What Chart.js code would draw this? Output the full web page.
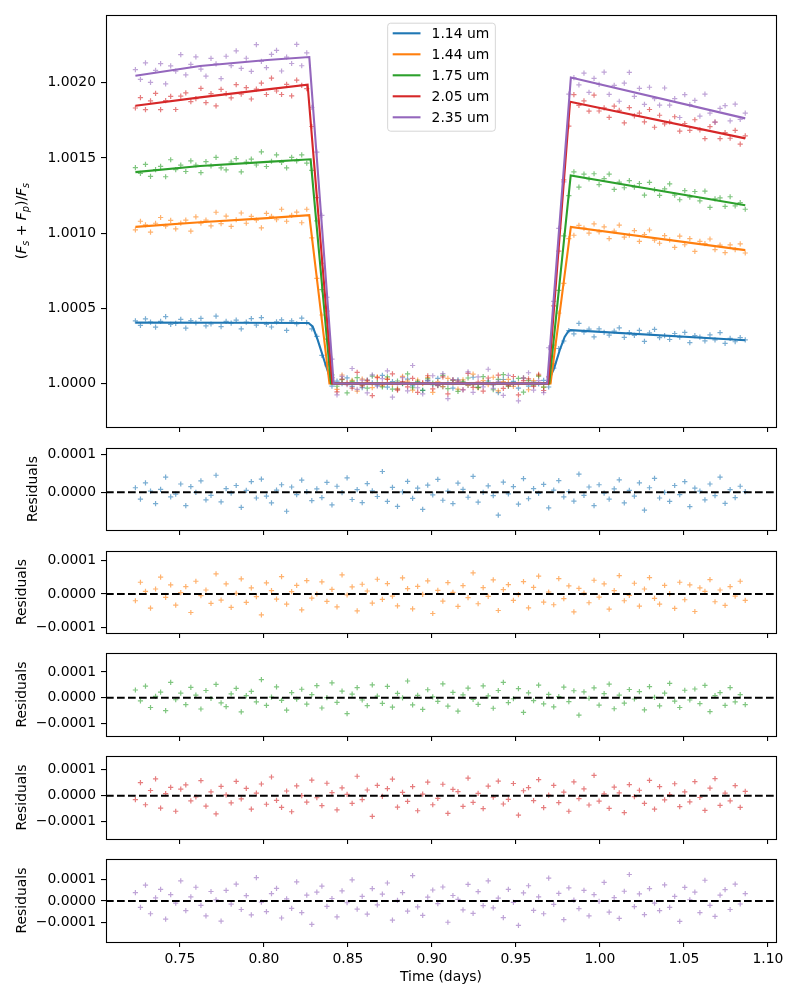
<!DOCTYPE html>
<html>
<head>
<meta charset="utf-8">
<title>Eclipse light curves and residuals</title>
<script src="https://cdn.jsdelivr.net/npm/chart.js@4"></script>
<style>
  body { margin: 0; background: #fff; width: 800px; height: 1000px; position: relative; overflow: hidden; }
  canvas { position: absolute; left: 0; }
</style>
</head>
<body>
<canvas id="main" width="800" height="437" style="top:0px"></canvas>
<canvas id="res0" width="800" height="102" style="top:438px"></canvas>
<canvas id="res1" width="800" height="102" style="top:541px"></canvas>
<canvas id="res2" width="800" height="103" style="top:643px"></canvas>
<canvas id="res3" width="800" height="103" style="top:746px"></canvas>
<canvas id="res4" width="800" height="151" style="top:849px"></canvas>

<script>
// ---- data (flux in ppm above 1, residuals in ppm) ----
const labels = ['1.14 um', '1.44 um', '1.75 um', '2.05 um', '2.35 um'];

const times = [
  0.7235, 0.7265, 0.7295, 0.7325, 0.7355, 0.7385, 0.7415, 0.7445, 0.7475, 0.7505,
  0.7535, 0.7565, 0.7595, 0.7625, 0.7655, 0.7685, 0.7715, 0.7745, 0.7775, 0.7805,
  0.7835, 0.7865, 0.7895, 0.7925, 0.7955, 0.7985, 0.8015, 0.8045, 0.8075, 0.8105,
  0.8135, 0.8165, 0.8195, 0.8225, 0.8255, 0.8285, 0.8315, 0.8345, 0.8375, 0.8405,
  0.8435, 0.8465, 0.8495, 0.8525, 0.8555, 0.8585, 0.8615, 0.8645, 0.8675, 0.8705,
  0.8735, 0.8765, 0.8795, 0.8825, 0.8855, 0.8885, 0.8915, 0.8945, 0.8975, 0.9005,
  0.9035, 0.9065, 0.9095, 0.9125, 0.9155, 0.9185, 0.9215, 0.9245, 0.9275, 0.9305,
  0.9335, 0.9365, 0.9395, 0.9425, 0.9455, 0.9485, 0.9515, 0.9545, 0.9575, 0.9605,
  0.9635, 0.9665, 0.9695, 0.9725, 0.9755, 0.9785, 0.9815, 0.9845, 0.9875, 0.9905,
  0.9935, 0.9965, 0.9995, 1.0025, 1.0055, 1.0085, 1.0115, 1.0145, 1.0175, 1.0205,
  1.0235, 1.0265, 1.0295, 1.0325, 1.0355, 1.0385, 1.0415, 1.0445, 1.0475, 1.0505,
  1.0535, 1.0565, 1.0595, 1.0625, 1.0655, 1.0685, 1.0715, 1.0745, 1.0775, 1.0805,
  1.0835, 1.0865
];

const fluxBlue = [
  417, 387, 430, 408, 375, 413, 445, 393, 400, 427,
  369, 419, 404, 434, 384, 396, 449, 379, 414, 402,
  422, 364, 409, 432, 389, 439, 394, 376, 410, 423,
  353, 417, 397, 435, 405, 363, 314, 188, 126, -17,
  16, -1, 38, -19, 7, -27, 23, 4, -11, 55,
  -24, 13, -37, 1, 29, -16, 11, -45, 19, -7,
  34, -21, 3, -30, 24, 8, -13, 42, -26, 0,
  17, -9, -60, 27, -4, 15, -31, 36, -17, 10,
  -3, 21, -23, 103, 233, 283, 352, 331, 400, 342,
  362, 311, 364, 340, 322, 348, 370, 307, 338, 321,
  354, 280, 337, 360, 306, 319, 293, 333, 308, 340,
  272, 319, 309, 284, 324, 291, 338, 267, 301, 278,
  306, 290
];
const fluxOrange = [
  1022, 1079, 1055, 1007, 1066, 1104, 1046, 1085, 1028, 1067,
  1087, 1013, 1108, 1067, 1086, 1049, 1139, 1063, 1113, 1045,
  1089, 1134, 1066, 1111, 1087, 1035, 1132, 1112, 1089, 1159,
  1079, 1118, 1140, 1069, 1159, 968, 700, 456, 118, 14,
  -38, 57, -3, 21, -50, 29, 9, -27, 44, -16,
  31, -6, -35, 48, 16, -44, 23, -1, 39, -58,
  11, -21, 34, 5, -37, 25, -11, 63, -29, 19,
  -7, 42, -49, 13, 28, -19, -2, 37, -41, 20,
  53, -24, 6, 132, 468, 666, 963, 986, 1052, 1033,
  1000, 1062, 1008, 1042, 963, 1013, 1054, 974, 986, 1017,
  945, 991, 1021, 954, 933, 984, 955, 906, 980, 923,
  963, 879, 945, 930, 961, 890, 921, 870, 922, 890,
  929, 868
];
const fluxGreen = [
  1436, 1397, 1457, 1377, 1423, 1444, 1375, 1488, 1423, 1452,
  1410, 1480, 1453, 1402, 1476, 1447, 1504, 1434, 1421, 1473,
  1496, 1407, 1472, 1492, 1453, 1541, 1443, 1478, 1520, 1470,
  1434, 1504, 1480, 1521, 1465, 1417, 1082, 625, 296, 58,
  -18, 26, -62, 14, 39, -9, -31, 50, 6, -22,
  44, -37, 17, -1, 65, -28, 9, -45, 31, 3,
  -14, 54, -33, 21, -52, 11, 37, -7, -26, 46,
  7, -41, 28, 60, -19, -4, 35, -57, 19, -11,
  49, -24, 13, 256, 620, 982, 1250, 1407, 1306, 1392,
  1361, 1395, 1322, 1362, 1393, 1291, 1339, 1302, 1349, 1306,
  1330, 1253, 1337, 1289, 1251, 1295, 1327, 1253, 1222, 1283,
  1239, 1277, 1214, 1279, 1172, 1228, 1234, 1178, 1242, 1181,
  1203, 1159
];
const fluxRed = [
  1832, 1901, 1821, 1880, 1929, 1821, 1881, 1909, 1822, 1911,
  1933, 1875, 1894, 1962, 1868, 1927, 1846, 1956, 1927, 1900,
  1987, 1924, 1968, 1892, 1958, 1997, 1922, 2031, 1945, 1922,
  1989, 1913, 2017, 1983, 1961, 1709, 1236, 800, 481, 39,
  -55, 30, 5, -30, 75, -15, 22, -80, 40, -3,
  27, 64, -44, 13, -22, 35, -58, 6, 52, -35,
  -10, 44, -68, 24, 16, -41, 68, -26, 9, -50,
  37, -6, 56, -32, -14, 47, -75, 19, 31, -19,
  62, -46, 45, 516, 881, 1354, 1712, 1921, 1850, 1880,
  1811, 1918, 1812, 1833, 1770, 1845, 1816, 1733, 1834, 1780,
  1798, 1740, 1822, 1704, 1784, 1726, 1739, 1774, 1679, 1729,
  1683, 1754, 1686, 1629, 1708, 1738, 1628, 1668, 1631, 1683,
  1592, 1647
];
const fluxPurple = [
  2087, 2022, 2132, 2002, 2082, 2127, 1992, 2112, 2077, 2187,
  2052, 2122, 2172, 2091, 2044, 2162, 2125, 2028, 2176, 2114,
  2212, 2095, 2163, 2076, 2254, 2142, 2100, 2188, 2215, 2078,
  2170, 2128, 2255, 2113, 2198, 1836, 1539, 1118, 574, 162,
  -75, 48, -8, 100, -38, 22, -62, 58, -18, 33,
  85, -90, 3, 40, -48, 120, -28, -68, 18, 52,
  -12, 66, -100, 26, 8, -42, 78, -58, 44, -22,
  95, -32, 14, -78, 55, -6, -115, 38, 72, -44,
  20, -60, 238, 547, 1032, 1341, 1924, 2034, 1986, 2064,
  1936, 2029, 1989, 2071, 1923, 1983, 1877, 1997, 2069, 1910,
  1962, 1856, 1970, 1894, 1851, 1965, 1851, 1895, 1769, 1921,
  1855, 1883, 1778, 1924, 1798, 1738, 1830, 1848, 1746, 1858,
  1757, 1798
];

const residBlue = [
  12, -18, 25, 3, -30, 8, 40, -12, -5, 22,
  -35, 15, 0, 30, -20, -8, 45, -25, 10, -2,
  18, -40, 5, 28, -15, 35, -10, -28, 6, 20,
  -50, 14, -6, 32, 2, -22, 9, -14, 26, -33,
  16, -1, 38, -19, 7, -27, 23, 4, -11, 55,
  -24, 13, -37, 1, 29, -16, 11, -45, 19, -7,
  34, -21, 3, -30, 24, 8, -13, 42, -26, 0,
  17, -9, -60, 27, -4, 15, -31, 36, -17, 10,
  -3, 21, -41, 6, 31, -12, 2, -23, 48, -8,
  14, -35, 20, -2, -18, 9, 33, -28, 5, -10,
  25, -47, 12, 37, -15, 0, -24, 18, -6, 28,
  -38, 11, 3, -20, 22, -9, 40, -29, 7, -14,
  16, 2
];
const residOrange = [
  -20, 35, 8, -42, 15, 50, -10, 27, -33, 4,
  22, -55, 38, -5, 12, -28, 60, -18, 30, -40,
  2, 45, -25, 18, -8, -62, 33, 10, -15, 52,
  -30, 7, 26, -47, 40, -12, 0, 36, -22, 14,
  -38, 57, -3, 21, -50, 29, 9, -27, 44, -16,
  31, -6, -35, 48, 16, -44, 23, -1, 39, -58,
  11, -21, 34, 5, -37, 25, -11, 63, -29, 19,
  -7, 42, -49, 13, 28, -19, -2, 37, -41, 20,
  53, -24, 6, -32, 46, -14, 24, -53, 17, 3,
  -26, 41, -9, 30, -45, 10, 55, -20, -4, 32,
  -36, 15, 49, -13, -30, 26, 1, -43, 35, -17,
  27, -52, 18, 8, 43, -23, 12, -34, 22, -6,
  38, -19
];
const residGreen = [
  30, -12, 45, -38, 5, 22, -50, 60, -8, 18,
  -27, 40, 10, -44, 28, -3, 52, -20, -35, 15,
  36, -55, 8, 25, -16, 70, -30, 2, 42, -10,
  -48, 20, -6, 33, -25, 12, 47, -40, 0, 58,
  -18, 26, -62, 14, 39, -9, -31, 50, 6, -22,
  44, -37, 17, -1, 65, -28, 9, -45, 31, 3,
  -14, 54, -33, 21, -52, 11, 37, -7, -26, 46,
  7, -41, 28, 60, -19, -4, 35, -57, 19, -11,
  49, -24, 13, -36, 4, 41, -15, 27, -68, 23,
  -2, 38, -29, 16, 53, -43, 10, -21, 32, -5,
  24, -47, 43, 1, -32, 18, 56, -13, -38, 29,
  -9, 34, -23, 48, -54, 8, 20, -30, 39, -16,
  12, -27
];
const residRed = [
  -15, 50, -35, 20, 65, -48, 8, 32, -60, 25,
  42, -20, -5, 58, -40, 15, -70, 36, 3, -28,
  55, -12, 28, -52, 10, 45, -33, 72, -18, -45,
  18, -62, 38, 0, -25, 60, -8, -38, 48, 12,
  -55, 30, 5, -30, 75, -15, 22, -80, 40, -3,
  27, 64, -44, 13, -22, 35, -58, 6, 52, -35,
  -10, 44, -68, 24, 16, -41, 68, -26, 9, -50,
  37, -6, 56, -32, -14, 47, -75, 19, 31, -19,
  62, -46, 2, 40, -27, 14, -60, 53, -11, 26,
  -36, 78, -21, 7, -49, 33, 11, -65, 43, -4,
  21, -30, 59, -52, 35, -16, 4, 46, -42, 15,
  -24, 54, -7, -57, 29, 66, -37, 10, -20, 39,
  -45, 17
];
const residPurple = [
  40, -30, 75, -60, 15, 55, -85, 30, -10, 95,
  -45, 20, 65, -20, -70, 45, 5, -95, 50, -15,
  80, -40, 25, -65, 110, -5, -50, 35, 60, -80,
  10, -35, 90, -55, 28, -110, 42, 70, -25, 12,
  -75, 48, -8, 100, -38, 22, -62, 58, -18, 33,
  85, -90, 3, 40, -48, 120, -28, -68, 18, 52,
  -12, 66, -100, 26, 8, -42, 78, -58, 44, -22,
  95, -32, 14, -78, 55, -6, -115, 38, 72, -44,
  20, -60, 108, -16, 36, -88, 62, 4, -36, 50,
  -70, 30, -2, 88, -52, 16, -82, 46, 125, -26,
  34, -64, 58, -10, -45, 76, -30, 22, -96, 64,
  6, 42, -55, 98, -20, -72, 28, 54, -40, 80,
  -14, 35
];

// fitted model curves (time, ppm)
const modelTimeBlue = [0.7235, 0.780, 0.8265, 0.8290, 0.8320, 0.8360, 0.8390, 0.8410, 0.8420,
                       0.9688, 0.9700, 0.9730, 0.9760, 0.9790, 0.9812, 0.9825, 1.0865];
const modelBlue     = [405, 404, 403, 380, 290, 150, 50, 5, 0,
                       0, 30, 110, 220, 310, 348, 355, 288];
const modelTimeOrange = [0.7235, 0.762, 0.802, 0.8270, 0.8390, 0.9706, 0.9827, 1.0865];
const modelOrange     = [1042, 1072, 1100, 1120, 0, 0, 1042, 887];
const modelTimeGreen  = [0.7235, 0.762, 0.802, 0.8278, 0.8399, 0.9698, 0.9826, 1.0865];
const modelGreen      = [1406, 1446, 1474, 1491, 0, 0, 1384, 1186];
const modelTimeRed    = [0.7235, 0.762, 0.802, 0.8260, 0.8407, 0.9692, 0.9822, 1.0865];
const modelRed        = [1847, 1903, 1956, 1987, 0, 0, 1873, 1630];
const modelTimePurple = [0.7235, 0.762, 0.802, 0.8270, 0.8415, 0.9686, 0.9827, 1.0865];
const modelPurple     = [2047, 2111, 2151, 2171, 0, 0, 2035, 1763];

const xTicks = [0.75, 0.80, 0.85, 0.90, 0.95, 1.00, 1.05, 1.10];
const mainTicks = [1.0000, 1.0005, 1.0010, 1.0015, 1.0020];
const residTicksTop = [0.0001, 0.0000];
const residTicks = [0.0001, 0.0000, -0.0001];

// ---- styling ----
const colors = ['#1f77b4', '#ff7f0e', '#2ca02c', '#d62728', '#9467bd'];
const xMin = 0.706, xMax = 1.1048;
const FS = 13.9;
Chart.defaults.font.family = 'DejaVu Sans';
Chart.defaults.font.size = FS;
Chart.defaults.color = '#000';

const series = [
  { flux: fluxBlue,   resid: residBlue,   mt: modelTimeBlue,   mv: modelBlue },
  { flux: fluxOrange, resid: residOrange, mt: modelTimeOrange, mv: modelOrange },
  { flux: fluxGreen,  resid: residGreen,  mt: modelTimeGreen,  mv: modelGreen },
  { flux: fluxRed,    resid: residRed,    mt: modelTimeRed,    mv: modelRed },
  { flux: fluxPurple, resid: residPurple, mt: modelTimePurple, mv: modelPurple }
];

function rgba(hex, a) {
  const n = parseInt(hex.slice(1), 16);
  return `rgba(${n >> 16}, ${(n >> 8) & 255}, ${n & 255}, ${a})`;
}
const fmt = v => v.toFixed(4).replace('-', '\u2212');

// axes box
const boxPlugin = {
  id: 'box',
  afterDraw(chart) {
    const { ctx, chartArea: a } = chart;
    ctx.save();
    ctx.strokeStyle = '#000';
    ctx.lineWidth = 1.1;
    ctx.strokeRect(Math.round(a.left) + 0.5, Math.round(a.top) + 0.5,
                   Math.round(a.right - a.left), Math.round(a.bottom - a.top));
    ctx.restore();
  }
};

// matplotlib style legend inside the axes, upper centre
const legendPlugin = {
  id: 'innerLegend',
  afterDraw(chart) {
    const items = chart.data.datasets.filter(d => d.inLegend).sort((a, b) => a.rank - b.rank);
    const { ctx, chartArea: a } = chart;
    ctx.save();
    ctx.font = `${FS}px "DejaVu Sans"`;
    const tw = Math.max(...items.map(d => ctx.measureText(d.label).width));
    const pad = 0.4 * FS, handle = 2 * FS, gap = 0.8 * FS, row = 21;
    const w = pad + handle + gap + tw + pad;
    const h = 108;
    const left = (a.left + a.right) / 2 - w / 2;
    const top = a.top + 7.7;
    ctx.beginPath();
    ctx.roundRect(left + 0.5, top + 0.5, w, h, 3);
    ctx.fillStyle = 'rgba(255,255,255,0.8)';
    ctx.fill();
    ctx.strokeStyle = 'rgba(204,204,204,0.8)';
    ctx.lineWidth = 1;
    ctx.stroke();
    ctx.textBaseline = 'middle';
    ctx.textAlign = 'left';
    items.forEach((d, k) => {
      const y = top + 10.6 + k * row;
      ctx.beginPath();
      ctx.moveTo(left + pad, y);
      ctx.lineTo(left + pad + handle, y);
      ctx.strokeStyle = d.borderColor;
      ctx.lineWidth = 2.1;
      ctx.stroke();
      ctx.fillStyle = '#000';
      ctx.fillText(d.label, left + pad + handle + gap, y + 1);
    });
    ctx.restore();
  }
};

// y label (F_s + F_p)/F_s with italic letters and subscripts
const mathLabel = {
  id: 'mathLabel',
  afterDraw(chart) {
    const { ctx, chartArea: a } = chart;
    const parts = [
      ['(', false, false], ['F', true, false], ['s', true, true], [' + ', false, false],
      ['F', true, false], ['p', true, true], [')', false, false], ['/', false, false],
      ['F', true, false], ['s', true, true]
    ];
    const fontOf = (it, sub) => `${it ? 'italic ' : ''}${sub ? FS * 0.7 : FS}px "DejaVu Sans"`;
    ctx.save();
    let total = 0;
    const widths = parts.map(([t, it, sub]) => {
      ctx.font = fontOf(it, sub);
      const wv = ctx.measureText(t).width;
      total += wv;
      return wv;
    });
    ctx.translate(26, (a.top + a.bottom) / 2);
    ctx.rotate(-Math.PI / 2);
    ctx.fillStyle = '#000';
    ctx.textBaseline = 'alphabetic';
    let x = -total / 2;
    parts.forEach(([t, it, sub], k) => {
      ctx.font = fontOf(it, sub);
      ctx.fillText(t, x, sub ? 3 : 0);
      x += widths[k];
    });
    ctx.restore();
  }
};

// scales keep a fixed size and no extra label padding, so the plot boxes sit where planned
function noPad(ax) { ax.paddingTop = 0; ax.paddingBottom = 0; ax.paddingLeft = 0; ax.paddingRight = 0; }

function xScale(showLabels, height) {
  return {
    type: 'linear', min: xMin, max: xMax,
    afterBuildTicks: ax => { ax.ticks = xTicks.map(v => ({ value: v })); },
    afterFit: ax => { ax.height = height; noPad(ax); },
    grid: { drawOnChartArea: false, drawTicks: true, tickLength: 5, color: '#000', lineWidth: 1.1 },
    border: { display: false },
    ticks: { autoSkip: false, maxRotation: 0, padding: 4, color: '#000',
             callback: v => showLabels ? v.toFixed(2) : '' },
    title: showLabels
      ? { display: true, text: 'Time (days)', color: '#000', padding: { top: 0, bottom: 14.6 } }
      : { display: false }
  };
}

function yScale(min, max, ticks, title, titlePad) {
  return {
    type: 'linear', min: min, max: max,
    afterBuildTicks: ax => { ax.ticks = ticks.map(v => ({ value: v })); },
    afterFit: ax => { ax.width = 106; noPad(ax); },
    grid: { drawOnChartArea: false, drawTicks: true, tickLength: 5, color: '#000', lineWidth: 1.1 },
    border: { display: false },
    ticks: { padding: 5, color: '#000', callback: v => fmt(v) },
    title: title
      ? { display: true, text: title, color: '#000', padding: { top: titlePad, bottom: 0 } }
      : { display: false }
  };
}

function baseOptions(padTop, x, y) {
  return {
    responsive: false, animation: false, devicePixelRatio: 1,
    layout: { autoPadding: false, padding: { top: padTop, right: 24, bottom: 0, left: 0 } },
    plugins: { legend: { display: false }, tooltip: { enabled: false } },
    scales: { x: x, y: y }
  };
}

const dotStyle = k => ({
  pointStyle: 'cross', pointRadius: 2.6, borderWidth: 1.2,
  borderColor: rgba(colors[k], 0.6), backgroundColor: rgba(colors[k], 0.6)
});

// ---- main light-curve panel ----
const mainSets = [];
series.forEach((s, k) => {
  mainSets.push({
    label: labels[k], inLegend: true, rank: k,
    data: s.mv.map((v, i) => ({ x: s.mt[i], y: 1 + v * 1e-6 })),
    showLine: true, borderColor: colors[k], borderWidth: 2.1, pointRadius: 0,
    tension: 0, order: 4 - k
  });
  mainSets.push(Object.assign({
    label: labels[k] + ' data',
    data: s.flux.map((v, i) => ({ x: times[i], y: 1 + v * 1e-6 })),
    order: 10 + (4 - k)
  }, dotStyle(k)));
});

new Chart(document.getElementById('main'), {
  type: 'scatter',
  data: { datasets: mainSets },
  options: baseOptions(15, xScale(false, 10), yScale(0.9997112, 1.0024504, mainTicks, null, 0)),
  plugins: [boxPlugin, legendPlugin, mathLabel]
});

// ---- residual panels ----
const residRanges = [
  [-0.995e-4, 1.17e-4],
  [-1.16e-4, 1.28e-4],
  [-1.49e-4, 1.74e-4],
  [-1.67e-4, 1.53e-4],
  [-1.93e-4, 1.98e-4]
];

series.forEach((s, k) => {
  const last = k === series.length - 1;
  const tks = k === 0 ? residTicksTop : residTicks;
  new Chart(document.getElementById('res' + k), {
    type: 'scatter',
    data: {
      datasets: [
        {
          label: 'zero',
          data: [{ x: xMin, y: 0 }, { x: xMax, y: 0 }],
          showLine: true, borderColor: '#000', borderWidth: 2.1, borderDash: [7.7, 3.3],
          pointRadius: 0, order: 0
        },
        Object.assign({
          label: labels[k] + ' residuals',
          data: s.resid.map((v, i) => ({ x: times[i], y: v * 1e-6 })),
          order: 1
        }, dotStyle(k))
      ]
    },
    options: baseOptions(10, xScale(last, last ? 58 : 10),
      yScale(residRanges[k][0], residRanges[k][1], tks, 'Residuals', k === 0 ? 25.2 : 13.7)),
    plugins: [boxPlugin]
  });
});
</script>
</body>
</html>
